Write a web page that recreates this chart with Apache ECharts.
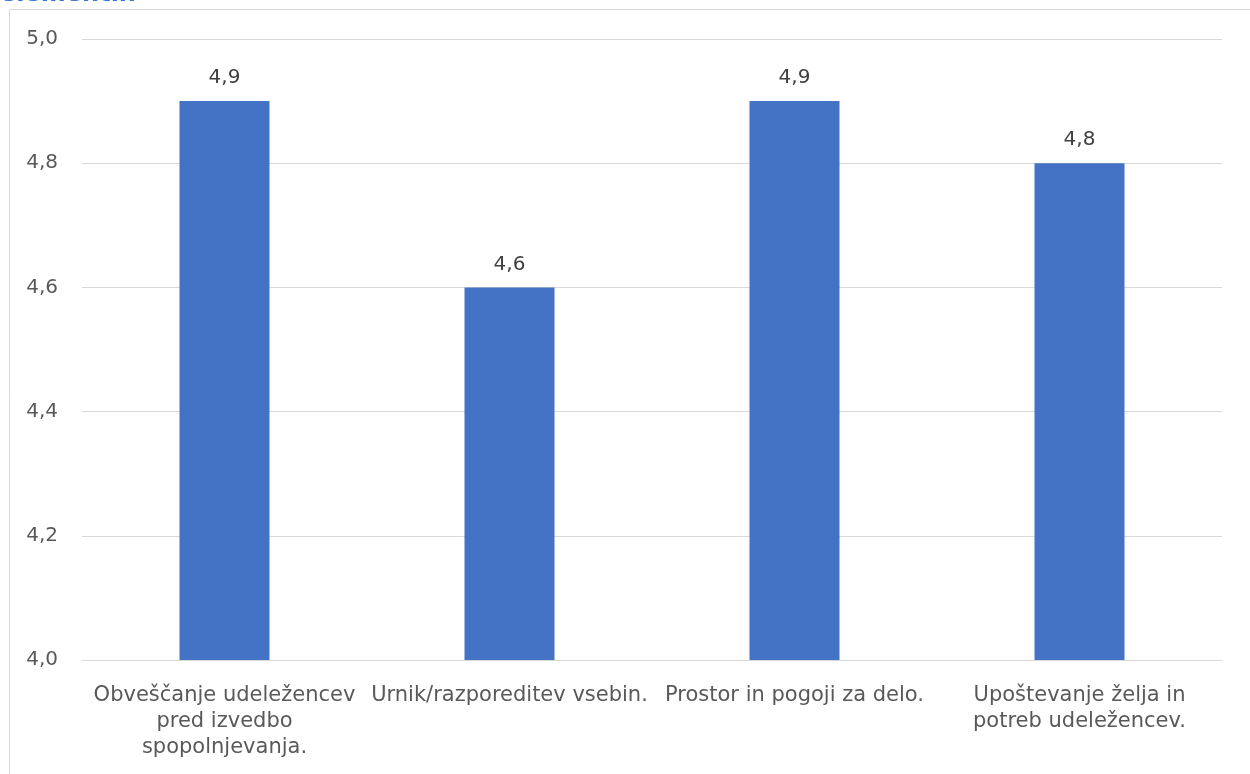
<!DOCTYPE html>
<html><head><meta charset="utf-8">
<script src="https://cdn.jsdelivr.net/npm/echarts@6/dist/echarts.min.js"></script>
<style>html,body{margin:0;padding:0;background:#fff}#c{width:1250px;height:774px}</style>
</head><body><div id="c"></div>
<script>
const categories = ["Obveščanje udeležencev\npred izvedbo\nspopolnjevanja.", "Urnik/razporeditev vsebin.", "Prostor in pogoji za delo.", "Upoštevanje želja in\npotreb udeležencev."];
const values = [4.9, 4.6, 4.9, 4.8];
const titleText = "elementih";
const FONT = "DejaVu Sans";
const chart = echarts.init(document.getElementById('c'));
chart.setOption({
  animation: false,
  graphic: [
    {type: 'rect', shape: {x: 9.5, y: 9.5, width: 1260, height: 800}, style: {fill: 'none', stroke: '#d9d9d9', lineWidth: 1}},
    {type: 'text', left: 0, top: -17, style: {text: titleText, font: 'bold 24px "DejaVu Sans"', fill: '#3a78d0'}}
  ],
  grid: {left: 82, right: 28, top: 39, bottom: 114},
  xAxis: {
    type: 'category', data: categories,
    axisLine: {lineStyle: {color: '#d9d9d9', width: 1}},
    axisTick: {show: false},
    axisLabel: {color: '#595959', fontFamily: FONT, fontSize: 21, lineHeight: 26, margin: 23, interval: 0}
  },
  yAxis: {
    type: 'value', min: 4.0, max: 5.0, interval: 0.2,
    axisLine: {show: false}, axisTick: {show: false},
    splitLine: {lineStyle: {color: '#d9d9d9', width: 1}},
    axisLabel: {color: '#595959', fontFamily: FONT, fontSize: 20, margin: 24,
      formatter: v => v.toFixed(1).replace('.', ',')}
  },
  series: [{
    type: 'bar', data: values, barWidth: 90,
    itemStyle: {color: '#4472C4'},
    label: {show: true, position: 'top', distance: 13, color: '#404040', fontFamily: FONT, fontSize: 20,
      formatter: p => p.value.toFixed(1).replace('.', ',')}
  }]
});
</script></body></html>
